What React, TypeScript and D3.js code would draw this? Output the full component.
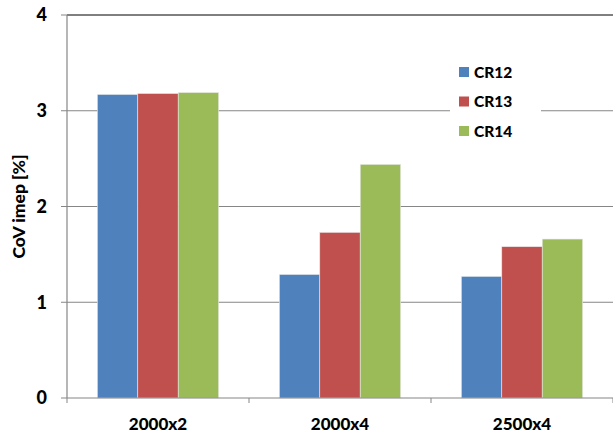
import React from "react";
import * as d3 from "d3";

const categories = ["2000x2", "2000x4", "2500x4"];
const seriesNames = ["CR12", "CR13", "CR14"];
const cr12 = [3.17, 1.29, 1.27];
const cr13 = [3.18, 1.73, 1.58];
const cr14 = [3.19, 2.44, 1.66];
const yTicks = [0, 1, 2, 3, 4];
const colors = ["#4F81BD", "#C0504D", "#9BBB59"];

export default function App() {
  const W = 613, H = 437;
  const left = 67, right = 613, top = 15, bottom = 398;
  const series = [cr12, cr13, cr14];
  const y = d3.scaleLinear().domain([0, 4]).range([bottom, top]);
  const x = d3.scaleBand().domain(categories).range([left, left + 3 * 182]).paddingInner(0);
  const bw = x.bandwidth();
  const barW = bw / 4.5;
  const font = "Lato, 'Open Sans', 'Liberation Sans', sans-serif";
  return (
    <svg width={W} height={H} style={{ position: "absolute", left: 0, top: 0, background: "#fff" }}>
      {yTicks.map((t) => (
        <g key={t}>
          {t > 0 && t < 4 && (
            <line x1={left} x2={right} y1={y(t)} y2={y(t)} stroke="#868686" strokeWidth={1} />
          )}
          <line x1={left - 6} x2={left} y1={y(t)} y2={y(t)} stroke="#868686" />
          <text x={47} y={y(t)} dy="0.36em" textAnchor="end" fontFamily={font} fontWeight="900" fontSize={18} fill="#000">
            {t}
          </text>
        </g>
      ))}
      <line x1={left} x2={right} y1={top} y2={top} stroke="#000" strokeWidth={1} />
      {categories.map((c, i) =>
        series.map((s, j) => {
          const xs = (x(c) as number) + (bw - 3 * barW) / 2 + barW * j;
          return (
            <rect
              key={c + j}
              x={xs}
              y={y(s[i])}
              width={barW}
              height={y(0) - y(s[i])}
              fill={colors[j]}
              stroke="#e8e8e8"
              strokeWidth={0.6}
            />
          );
        })
      )}
      <line x1={left} x2={left} y1={top} y2={bottom} stroke="#868686" strokeWidth={1.2} />
      <line x1={left} x2={right} y1={bottom} y2={bottom} stroke="#868686" strokeWidth={1.2} />
      {categories.map((c) => (
        <g key={c}>
          <line x1={(x(c) as number) + bw} x2={(x(c) as number) + bw} y1={bottom} y2={bottom + 5} stroke="#868686" />
          <text x={(x(c) as number) + bw / 2} y={424} dy="0.35em" textAnchor="middle" fontFamily={font} fontWeight="900" fontSize={17} fill="#000">
            {c}
          </text>
        </g>
      ))}
      <line x1={left} x2={left} y1={bottom} y2={bottom + 5} stroke="#868686" />
      <rect x={450} y={56} width={91} height={90} fill="#fff" />
      {seriesNames.map((n, j) => (
        <g key={n}>
          <rect x={459} y={67 + j * 29.5} width={10} height={10} fill={colors[j]} />
          <text x={474} y={72 + j * 29.5} dy="0.36em" fontFamily={font} fontWeight="900" fontSize={15.5} fill="#000">
            {n}
          </text>
        </g>
      ))}
      <text transform={`translate(19,${(top + bottom) / 2}) rotate(-90)`} textAnchor="middle" dy="0.35em" fontFamily={font} fontWeight="900" fontSize={17.5} fill="#000">
        CoV imep [%]
      </text>
    </svg>
  );
}
